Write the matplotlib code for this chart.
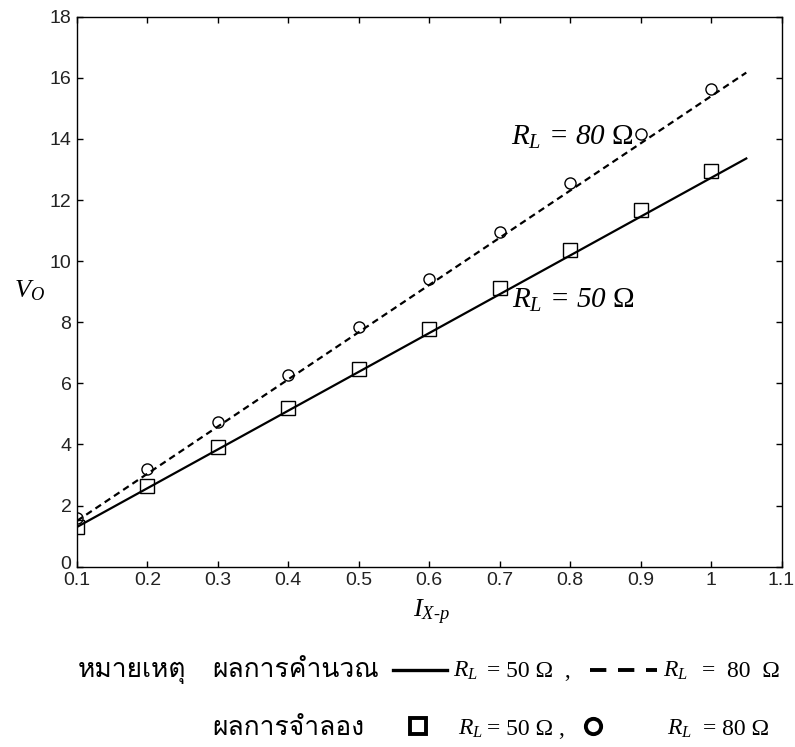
import matplotlib
matplotlib.use('Agg')
import matplotlib.pyplot as plt
import matplotlib.transforms as mtransforms
from matplotlib import font_manager as fm
from matplotlib.ft2font import FT2Font
from matplotlib.lines import Line2D

# ---------------- data ----------------
x_sim = [0.1, 0.2, 0.3, 0.4, 0.5, 0.6, 0.7, 0.8, 0.9, 1.0]
sim_50 = [1.29, 2.64, 3.91, 5.20, 6.47, 7.79, 9.11, 10.37, 11.67, 12.94]
sim_80 = [1.58, 3.19, 4.75, 6.27, 7.85, 9.43, 10.97, 12.55, 14.15, 15.65]
x_calc = [0.1, 1.05]
calc_50 = [1.30, 13.36]
calc_80 = [1.50, 16.17]
xticks = [0.1, 0.2, 0.3, 0.4, 0.5, 0.6, 0.7, 0.8, 0.9, 1.0, 1.1]
xtick_labels = ['0.1', '0.2', '0.3', '0.4', '0.5', '0.6', '0.7', '0.8', '0.9', '1', '1.1']
yticks = [0, 2, 4, 6, 8, 10, 12, 14, 16, 18]

plt.rcParams['mathtext.fontset'] = 'custom'
plt.rcParams['mathtext.rm'] = 'Liberation Serif'
plt.rcParams['mathtext.it'] = 'Liberation Serif:italic'
plt.rcParams['mathtext.bf'] = 'Liberation Serif:bold'


def find_thai():
    pref = ['Laksaman', 'Norasi', 'Kinnari', 'TH Sarabun New', 'Garuda', 'Loma',
            'Noto Serif Thai', 'Noto Sans Thai', 'Noto Sans Thai Looped']
    found = {}
    for f in fm.fontManager.ttflist:
        try:
            cmap = FT2Font(f.fname).get_charmap()
            if 0x0E2B in cmap and 0x0E13 in cmap:
                found.setdefault(f.name, f.fname)
        except Exception:
            pass
    for p in pref:
        if p in found:
            return p
    return next(iter(found), None)


thai = find_thai()
thai_family = [thai, 'DejaVu Sans'] if thai else ['DejaVu Sans']

W, H = 795, 747
fig = plt.figure(figsize=(W / 100, H / 100), dpi=100)


def fx(px):
    return px / W


def fy(py):
    return 1 - py / H


ax = fig.add_axes([fx(77), fy(566.7), fx(781.5) - fx(77), fy(16.7) - fy(566.7)])

ax.plot(x_calc, calc_50, '-', color='black', lw=1.6)
ax.plot(x_calc, calc_80, '--', color='black', lw=1.6, dashes=(3, 2))
ax.plot(x_sim, sim_50, 's', ms=9.5, mfc='none', mec='black', mew=1.0)
ax.plot(x_sim, sim_80, 'o', ms=8, mfc='none', mec='black', mew=1.0)

ax.set_xlim(0.1, 1.1)
ax.set_ylim(0, 18)
ax.set_xticks(xticks)
ax.set_xticklabels(xtick_labels)
ax.set_yticks(yticks)
ax.tick_params(direction='in', top=True, right=True, length=4, width=1,
               labelsize=14, pad=4, colors='black', labelcolor='#222222')
for lab in ax.get_xticklabels() + ax.get_yticklabels():
    lab.set_fontfamily('Liberation Sans')
# lift the "0" y label a little so it just sits on top of "0.1"
zero_lab = ax.get_yticklabels()[0]
zero_lab.set_transform(zero_lab.get_transform() +
                       mtransforms.ScaledTranslation(0, 4 / 100, fig.dpi_scale_trans))
for s in ax.spines.values():
    s.set_linewidth(1.0)

# axis labels
fig.text(fx(14), fy(290), r'$V_O$', fontsize=19, ha='left', va='center')
fig.text(fx(413), fy(612), r'$I_{X\text{-}p}$', fontsize=19, ha='left', va='center')

# annotations
ax.text(0.716, 13.8, r'$R_L$ = 80 $\mathrm{\Omega}$', fontsize=21,
        family='Liberation Serif', style='italic', ha='left', va='baseline')
ax.text(0.718, 8.46, r'$R_L$ = 50 $\mathrm{\Omega}$', fontsize=21,
        family='Liberation Serif', style='italic', ha='left', va='baseline')

# bottom note
row1 = 677
row2 = 735
fs_thai = 19
fig.text(fx(78), fy(row1), 'หมายเหตุ', family=thai_family, fontsize=fs_thai,
         ha='left', va='baseline')
fig.text(fx(212), fy(row1), 'ผลการคำนวณ', family=thai_family, fontsize=fs_thai,
         ha='left', va='baseline')
fig.text(fx(212), fy(row2), 'ผลการจำลอง', family=thai_family, fontsize=fs_thai,
         ha='left', va='baseline')

fs_leg = 17


def leg_text(x_r, x_eq, base, rest):
    fig.text(fx(x_r), fy(base), r'$R_L$', family='Liberation Serif',
             fontsize=fs_leg, ha='left', va='baseline')
    fig.text(fx(x_eq), fy(base), rest, family='Liberation Serif',
             fontsize=fs_leg, ha='left', va='baseline')


fig.add_artist(Line2D([fx(393), fx(447)], [fy(row1 - 7)] * 2, color='black', lw=2.4))
leg_text(453, 487, row1, '= 50 Ω  ,')
fig.add_artist(Line2D([fx(590), fx(657)], [fy(row1 - 7)] * 2, color='black', lw=2.8,
                      ls=(0, (4.2, 3.0))))
leg_text(663, 702, row1, '=  80  Ω')

fig.add_artist(Line2D([fx(417.5)], [fy(row2 - 9)], marker='s', ms=11, mfc='none',
                      mec='black', mew=2.8, ls='none'))
leg_text(458, 487, row2, '= 50 Ω ,')
fig.add_artist(Line2D([fx(593)], [fy(row2 - 9)], marker='o', ms=11, mfc='none',
                      mec='black', mew=2.8, ls='none'))
leg_text(667, 703, row2, '= 80 Ω')

fig.savefig('out.png', dpi=100)
